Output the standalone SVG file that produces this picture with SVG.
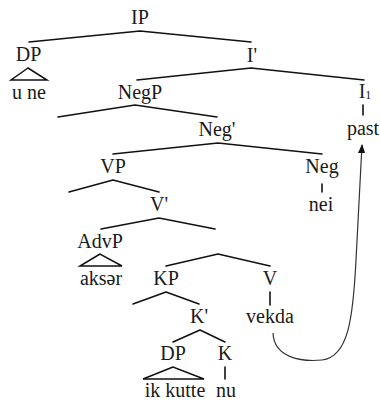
<svg xmlns="http://www.w3.org/2000/svg" width="380" height="400" viewBox="0 0 380 400">
  <style>
    .edge { stroke: #111; stroke-width: 1.6; fill: none; stroke-linecap: round; stroke-linejoin: round; }
    .tri { stroke: #111; stroke-width: 1.5; fill: none; stroke-linejoin: miter; }
    .move { stroke: #333; stroke-width: 1.2; fill: none; }
  </style>
  <defs>
    <marker id="head" viewBox="0 0 10 10" refX="9" refY="5" markerWidth="9" markerHeight="9" markerUnits="userSpaceOnUse" orient="auto">
      <path d="M0,1 L10,5 L0,9 Z" fill="#111"/>
    </marker>
  </defs>
  <rect width="380" height="400" fill="#fff"/>

  <!-- branches -->
  <g id="edges">
    <polyline class="edge" points="29,42 140,31 251,42"/>
    <polyline class="edge" points="137,80 251,68 364,80"/>
    <polyline class="edge" points="58,117 135,105 217,117"/>
    <polyline class="edge" points="113,154 218,143 322,154"/>
    <polyline class="edge" points="69,192 113,180 159,192"/>
    <polyline class="edge" points="101,229 159,218 215,229"/>
    <polyline class="edge" points="166,266 218,254 270,266"/>
    <polyline class="edge" points="133,304 166,292 199,304"/>
    <polyline class="edge" points="173,342 200,330 225,342"/>
    <line class="edge" x1="363" y1="105" x2="363" y2="115"/>
    <line class="edge" x1="322" y1="184" x2="322" y2="192"/>
    <line class="edge" x1="270" y1="292" x2="270" y2="305"/>
    <line class="edge" x1="225" y1="367" x2="225" y2="379"/>
    <!-- head movement V to I -->
    <path class="move" d="M273,333 C274,358 302,362 322,360 C348,357 353,320 356,260 C358,220 360,185 362,145" marker-end="url(#head)"/>
  </g>

  <g id="nodes" font-family="Liberation Serif, serif" font-size="20" fill="#1a1a1a" text-anchor="middle">
    <g id="IP"><text x="140" y="24">IP</text></g>
    <g id="DP1">
      <text x="28.5" y="61">DP</text>
      <polygon class="tri" points="28,68 11,80 47,80"/>
      <text x="29" y="99">u ne</text>
    </g>
    <g id="Ibar"><text x="252" y="62">I'</text></g>
    <g id="I1"><text x="365" y="98">I<tspan font-size="12" dy="1">1</tspan></text></g>
    <g id="past"><text x="363" y="135">past</text></g>
    <g id="NegP"><text x="140" y="99">NegP</text></g>
    <g id="Negbar"><text x="217" y="136">Neg'</text></g>
    <g id="VP"><text x="113" y="173">VP</text></g>
    <g id="Neg"><text x="322" y="173">Neg</text></g>
    <g id="nei"><text x="321" y="211">nei</text></g>
    <g id="Vbar"><text x="159" y="211">V'</text></g>
    <g id="AdvP">
      <text x="100" y="248">AdvP</text>
      <polygon class="tri" points="100,254 80,266 122,266"/>
      <text x="101" y="285">aksər</text>
    </g>
    <g id="KP"><text x="166" y="285">KP</text></g>
    <g id="V"><text x="270" y="285">V</text></g>
    <g id="vekda"><text x="270" y="323">vekda</text></g>
    <g id="Kbar"><text x="199" y="323">K'</text></g>
    <g id="DP2">
      <text x="173" y="360">DP</text>
      <polygon class="tri" points="173,367 143,379 204,379"/>
      <text x="175" y="397">ik kutte</text>
    </g>
    <g id="K"><text x="225" y="360">K</text></g>
    <g id="nu"><text x="226" y="397">nu</text></g>
  </g>
</svg>
